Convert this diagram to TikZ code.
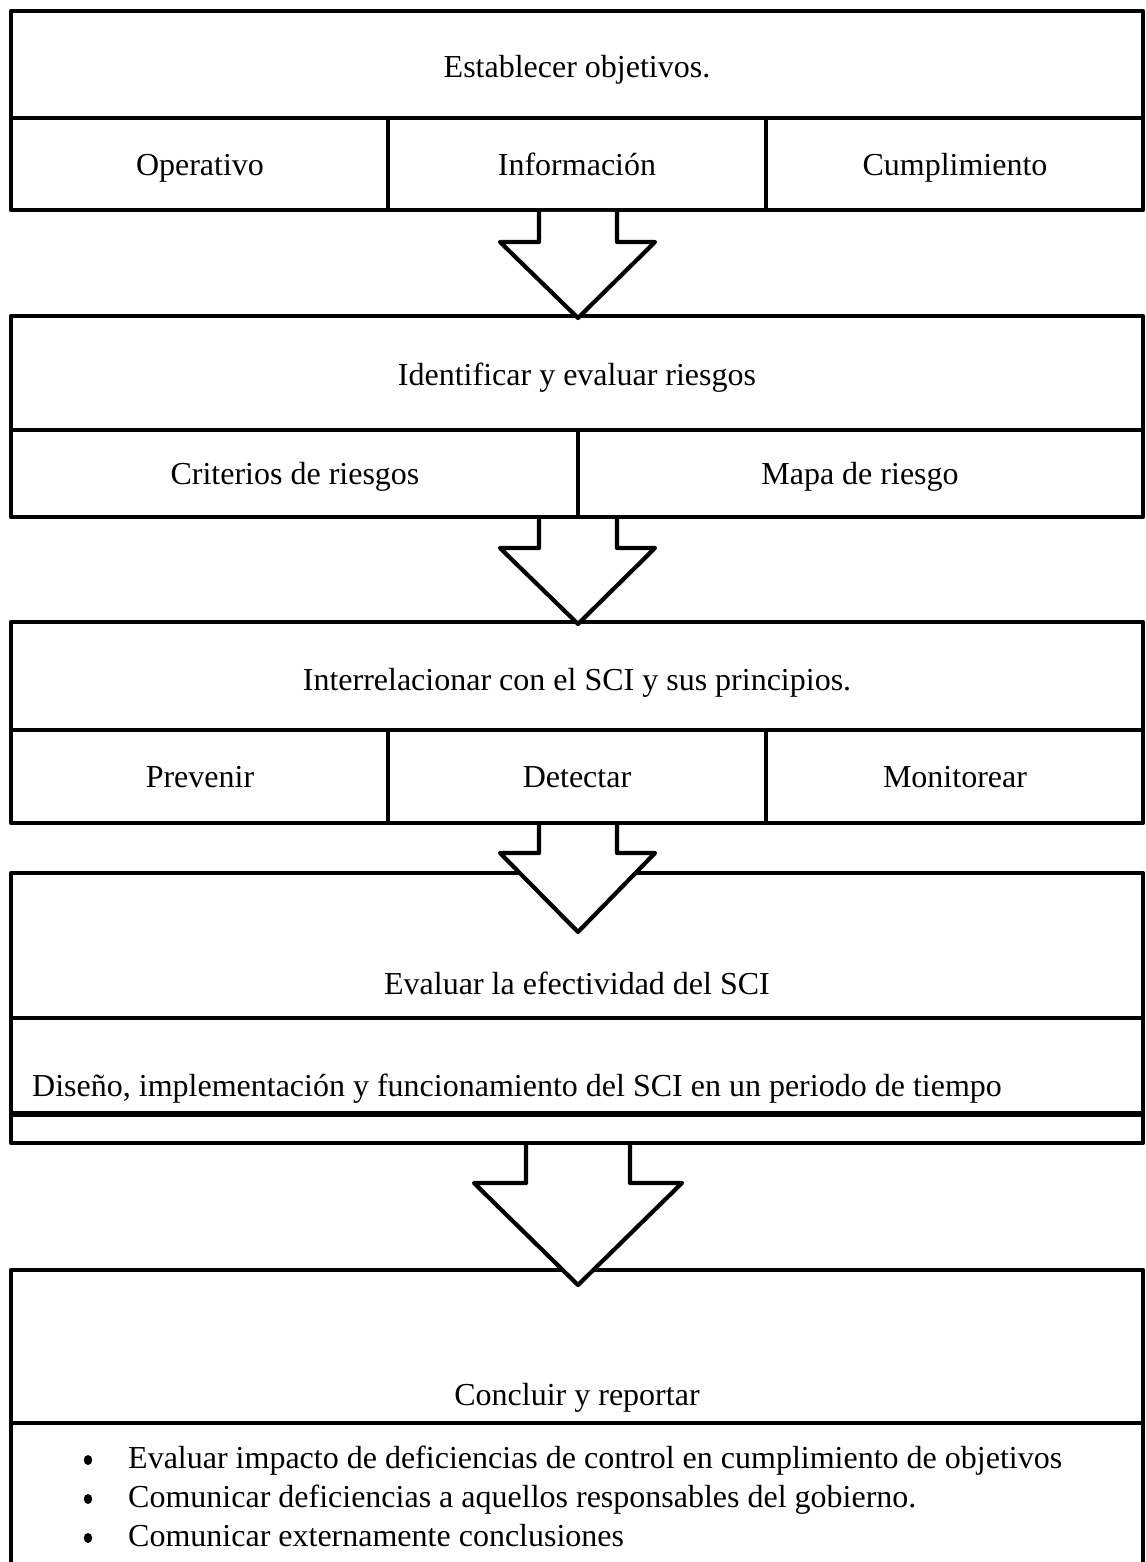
\documentclass[tikz,border=0pt]{standalone}
\usepackage{fontspec}
\setmainfont{Liberation Serif}
\usetikzlibrary{shapes.geometric}
\begin{document}
\begin{tikzpicture}[x=1pt,y=-1pt,
  frame/.style={line width=4.2pt, line join=round},
  rule/.style={line width=3.4pt},
  downarrow/.style={line width=4.2pt, line join=round, fill=white},
  lbl/.style={font=\fontsize{32}{38}\selectfont, anchor=base, inner sep=0pt},
  lbll/.style={font=\fontsize{32}{38}\selectfont, anchor=base west, inner sep=0pt},
  dot/.style={ellipse, fill=black, inner sep=0pt, minimum width=8.5pt, minimum height=10pt}]
\useasboundingbox (0,0) rectangle (1145,1562);

% ---- block 1: objectives
\coordinate (b1tl) at (11,11);
\coordinate (b1br) at (1143,210);
\draw[frame] (b1tl) rectangle (b1br);
\draw[rule] (11,118) -- (1143,118);
\draw[rule] (388,118) -- (388,210);
\draw[rule] (766,118) -- (766,210);
\node[lbl] (t1) at (577,78) {Establecer objetivos.};
\node[lbl] (t1a) at (200,176) {Operativo};
\node[lbl] (t1b) at (577,176) {Información};
\node[lbl] (t1c) at (955,176) {Cumplimiento};

% ---- block 2: risks
\coordinate (b2tl) at (11,316);
\coordinate (b2br) at (1143,517);
\draw[frame] (b2tl) rectangle (b2br);
\draw[rule] (11,430) -- (1143,430);
\draw[rule] (578,430) -- (578,517);
\node[lbl] (t2) at (577,385) {Identificar y evaluar riesgos};
\node[lbl] (t2a) at (295,484) {Criterios de riesgos};
\node[lbl] (t2b) at (860,484) {Mapa de riesgo};

% ---- block 3: internal control
\coordinate (b3tl) at (11,622);
\coordinate (b3br) at (1143,823);
\draw[frame] (b3tl) rectangle (b3br);
\draw[rule] (11,730) -- (1143,730);
\draw[rule] (388,730) -- (388,823);
\draw[rule] (766,730) -- (766,823);
\node[lbl] (t3) at (577,690) {Interrelacionar con el SCI y sus principios.};
\node[lbl] (t3a) at (200,787) {Prevenir};
\node[lbl] (t3b) at (577,787) {Detectar};
\node[lbl] (t3c) at (955,787) {Monitorear};

% ---- block 4: effectiveness
\coordinate (b4tl) at (11,873);
\coordinate (b4br) at (1143,1143);
\draw[frame] (b4tl) rectangle (b4br);
\draw[rule] (11,1018) -- (1143,1018);
\draw[line width=5.5pt] (11,1114) -- (1143,1114);
\node[lbl] (t4) at (577,994) {Evaluar la efectividad del SCI};
\node[lbll] (t4a) at (32,1096) {Diseño, implementación y funcionamiento del SCI en un periodo de tiempo};

% ---- block 5: conclusions (runs off the lower edge)
\draw[frame] (11,1575) -- (11,1270) -- (1143,1270) -- (1143,1575);
\draw[rule] (11,1423) -- (1143,1423);
\node[lbl] (t5) at (577,1405) {Concluir y reportar};
\node[dot] (d1) at (88,1460) {};
\node[dot] (d2) at (88,1499) {};
\node[dot] (d3) at (88,1538) {};
\node[lbll] (t5a) at (128,1468) {Evaluar impacto de deficiencias de control en cumplimiento de objetivos};
\node[lbll] (t5b) at (128,1507) {Comunicar deficiencias a aquellos responsables del gobierno.};
\node[lbll] (t5c) at (128,1546) {Comunicar externamente conclusiones};

% ---- block arrows between the stages
\draw[downarrow] (539,212) -- (539,242) -- (500,242) -- (578,318) -- (655,242) -- (617,242) -- (617,212);
\draw[downarrow] (539,519) -- (539,548) -- (500,548) -- (578,624) -- (655,548) -- (617,548) -- (617,519);
\draw[downarrow] (539,825) -- (539,853) -- (500,853) -- (578,932) -- (655,853) -- (617,853) -- (617,825);
\draw[downarrow] (526,1145) -- (526,1183) -- (474,1183) -- (578,1285) -- (682,1183) -- (630,1183) -- (630,1145);
\end{tikzpicture}
\end{document}
